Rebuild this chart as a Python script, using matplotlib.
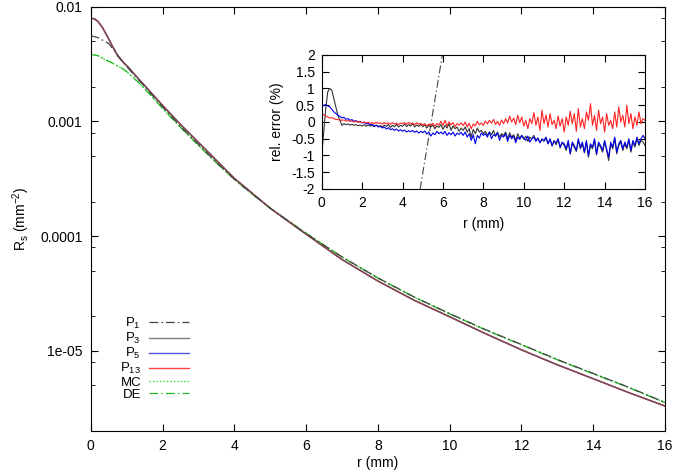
import numpy as np
import matplotlib
matplotlib.use("Agg")
import matplotlib.pyplot as plt
from matplotlib.ticker import FixedLocator, NullFormatter

plt.rcParams['font.family'] = ['Liberation Sans', 'DejaVu Sans']
plt.rcParams['mathtext.default'] = 'regular'
plt.rcParams['axes.unicode_minus'] = False

# main plot: reflectance profiles R_s(r)
r_p1 = [0, 0.2, 0.5, 0.85, 1.0, 1.3, 1.6, 2.0, 2.5, 3.0, 3.5, 4.0, 5.0, 6.0,
        7, 8, 9, 10, 11, 12, 13, 14, 15, 16]
R_p1 = [5.60e-3, 5.38e-3, 4.77e-3, 3.46e-3, 3.01e-3, 2.36e-3, 1.86e-3, 1.34e-3,
        9.05e-4, 6.31e-4, 4.40e-4, 3.13e-4, 1.75e-4, 1.05e-4, 6.60e-5, 4.32e-5,
        2.96e-5, 2.11e-5, 1.53e-5, 1.135e-5, 8.40e-6, 6.35e-6, 4.80e-6, 3.55e-6]

r_pn = [0, 0.1, 0.2, 0.33, 0.48, 0.62, 0.76, 0.9, 1.04, 1.3, 1.6, 2.0, 2.5, 3.0,
        3.5, 4.0, 5.0, 6.0, 7.0, 8.0, 9.0, 10, 11, 12, 13, 14, 15, 16]
R_p3 = [7.97e-3, 7.83e-3, 7.45e-3, 6.57e-3, 5.38e-3, 4.43e-3, 3.70e-3, 3.29e-3,
        2.98e-3, 2.41e-3, 1.90e-3, 1.38e-3, 9.42e-4, 6.57e-4, 4.58e-4, 3.19e-4,
        1.75e-4, 1.04e-4, 6.25e-5, 4.06e-5, 2.77e-5, 1.98e-5, 1.41e-5, 1.02e-5,
        7.55e-6, 5.71e-6, 4.31e-6, 3.30e-6]
R_p5 = R_p3
R_p13 = R_p3

r_ref = [0, 0.2, 0.4, 0.6, 0.85, 1.0, 1.3, 1.6, 2.0, 2.5, 3.0, 3.5, 4.0, 4.5, 5.0,
         6, 7, 8, 9, 10, 11, 12, 13, 14, 15, 16]
R_mc = [3.83e-3, 3.75e-3, 3.46e-3, 3.23e-3, 2.93e-3, 2.72e-3, 2.23e-3, 1.79e-3,
        1.30e-3, 8.87e-4, 6.18e-4, 4.36e-4, 3.13e-4, 2.32e-4, 1.75e-4, 1.06e-4,
        6.57e-5, 4.31e-5, 2.95e-5, 2.10e-5, 1.52e-5, 1.13e-5, 8.35e-6, 6.31e-6,
        4.77e-6, 3.53e-6]
R_de = R_mc

# inset: relative error (%) on a 0.1 mm grid
r_err = np.arange(161) / 10.0
err_p1_r = [4.87, 5.97]
err_p1 = [-2.0, 2.0]
err_p3 = [
    -1.00, -0.30, 0.40, 0.90, 1.00, 0.95, 0.70, 0.45, 0.20, 0.05,
    -0.10, -0.05, -0.08, -0.06, -0.09, -0.07, -0.10, -0.08, -0.11, -0.09,
    -0.12, -0.08, -0.13, -0.09, -0.12, -0.10, -0.14, -0.09, -0.13, -0.11,
    -0.15, -0.09, -0.13, -0.08, -0.16, -0.10, -0.14, -0.07, -0.15, -0.10,
    -0.13, -0.06, -0.14, -0.08, -0.12, -0.05, -0.15, -0.09, -0.13, -0.07,
    -0.14, -0.08, -0.18, -0.10, -0.15, -0.09, -0.20, -0.12, -0.16, -0.08,
    -0.22, -0.10, -0.18, -0.05, -0.25, -0.12, -0.20, -0.15, -0.28, -0.18,
    -0.25, -0.15, -0.30, -0.20, -0.45, -0.22, -0.35, -0.18, -0.30, -0.25,
    -0.35, -0.28, -0.40, -0.30, -0.38, -0.25, -0.42, -0.30, -0.45, -0.35,
    -0.40, -0.30, -0.50, -0.32, -0.45, -0.38, -0.55, -0.35, -0.48, -0.40,
    -0.52, -0.42, -0.58, -0.45, -0.50, -0.40, -0.55, -0.48, -0.62, -0.50,
    -0.58, -0.48, -0.65, -0.52, -0.72, -0.55, -0.68, -0.52, -0.78, -0.62,
    -0.70, -0.85, -0.60, -0.95, -0.65, -0.75, -0.88, -0.55, -0.80, -0.65,
    -0.92, -0.60, -1.05, -0.70, -0.80, -0.55, -0.98, -0.65, -0.75, -0.90,
    -0.60, -0.85, -1.15, -0.65, -0.80, -0.50, -0.95, -0.70, -0.60, -0.85,
    -0.65, -0.80, -0.55, -0.90, -0.60, -0.75, -0.50, -0.70, -0.55, -0.60,
    -0.70]
err_p5 = [
    0.45, 0.50, 0.52, 0.48, 0.45, 0.38, 0.30, 0.25, 0.20, 0.17,
    0.12, 0.14, 0.08, 0.10, 0.05, 0.07, 0.02, 0.04, 0.00, 0.02,
    -0.03, -0.01, -0.06, -0.04, -0.09, -0.07, -0.12, -0.10, -0.15, -0.13,
    -0.18, -0.15, -0.21, -0.17, -0.23, -0.20, -0.25, -0.21, -0.27, -0.23,
    -0.28, -0.24, -0.30, -0.26, -0.29, -0.25, -0.31, -0.27, -0.33, -0.28,
    -0.32, -0.27, -0.36, -0.30, -0.42, -0.33, -0.38, -0.28, -0.35, -0.30,
    -0.36, -0.28, -0.40, -0.32, -0.38, -0.30, -0.42, -0.33, -0.37, -0.31,
    -0.40, -0.30, -0.45, -0.35, -0.55, -0.38, -0.65, -0.40, -0.48, -0.33,
    -0.40, -0.35, -0.45, -0.30, -0.50, -0.38, -0.42, -0.32, -0.55, -0.40,
    -0.45, -0.35, -0.58, -0.40, -0.50, -0.42, -0.62, -0.45, -0.52, -0.40,
    -0.48, -0.55, -0.42, -0.60, -0.50, -0.45, -0.58, -0.48, -0.62, -0.52,
    -0.55, -0.45, -0.65, -0.50, -0.70, -0.58, -0.62, -0.50, -0.75, -0.60,
    -0.65, -0.80, -0.55, -0.95, -0.60, -0.70, -0.85, -0.50, -0.75, -0.60,
    -0.90, -0.55, -1.00, -0.65, -0.75, -0.50, -0.95, -0.60, -0.70, -0.85,
    -0.55, -0.80, -1.05, -0.60, -0.75, -0.45, -0.90, -0.65, -0.55, -0.80,
    -0.60, -0.75, -0.50, -0.85, -0.55, -0.70, -0.45, -0.65, -0.50, -0.40,
    -0.50]
err_p13 = [
    0.20, 0.22, 0.18, 0.15, 0.12, 0.13, 0.10, 0.08, 0.07, 0.06,
    0.05, 0.06, 0.03, 0.04, 0.02, 0.03, 0.00, 0.02, -0.01, 0.01,
    -0.02, 0.00, -0.03, -0.01, -0.04, -0.02, -0.05, -0.01, -0.04, -0.03,
    -0.06, -0.02, -0.05, -0.03, -0.07, -0.02, -0.06, -0.04, -0.08, -0.03,
    -0.05, -0.02, -0.07, -0.01, -0.06, -0.03, -0.08, -0.02, -0.07, -0.04,
    -0.09, -0.05, -0.12, -0.06, -0.10, -0.04, -0.13, -0.05, -0.09, 0.02,
    -0.10, 0.05, -0.12, 0.00, -0.08, -0.02, -0.14, -0.05, -0.09, -0.03,
    -0.11, 0.00, -0.15, -0.04, -0.20, -0.06, -0.12, 0.02, -0.08, -0.03,
    -0.10, 0.03, -0.06, 0.05, -0.04, 0.08, -0.07, 0.02, -0.10, 0.06,
    -0.05, 0.10, -0.03, 0.18, 0.00, 0.12, -0.08, 0.20, -0.02, 0.15,
    -0.12, 0.05, -0.20, 0.10, -0.05, 0.28, -0.10, 0.15, -0.25, 0.35,
    -0.05, 0.20, -0.15, 0.25, -0.08, 0.05, -0.20, 0.18, -0.12, 0.10,
    -0.30, 0.15, -0.10, 0.32, -0.05, 0.25, -0.28, 0.40, -0.15, 0.10,
    -0.20, 0.30, 0.05, 0.55, -0.10, 0.20, -0.25, 0.35, -0.05, 0.15,
    -0.30, 0.25, -0.10, 0.05, -0.20, 0.30, -0.15, 0.45, 0.00, 0.20,
    -0.15, 0.50, -0.05, 0.25, -0.20, 0.15, -0.10, 0.30, -0.05, 0.10,
    0.05]

dashdot = (0, (7, 2.5, 1.2, 2.5))
fs = 10

fig = plt.figure(figsize=(6.75, 4.72), dpi=100)
ax = fig.add_axes([0.1344, 0.0869, 0.8508, 0.8989])

ax.plot(r_p1, R_p1, color='#444444', lw=0.9, ls=dashdot, label='P$_1$', zorder=3)
ax.plot(r_pn, R_p5, color='#5555dd', lw=1.0, label='P$_5$', zorder=2)
ax.plot(r_pn, R_p13, color='#ff4444', lw=1.0, label='P$_{13}$', zorder=2.1)
ax.plot(r_pn, R_p3, color='#505050', lw=1.0, alpha=0.75, label='P$_3$', zorder=2.2)
ax.plot(r_ref, R_mc, color='#33dd33', lw=1.0, ls=(0, (1, 1.5)), label='MC')
ax.plot(r_ref, R_de, color='#22bb22', lw=0.9, ls=dashdot, label='DE')

ax.set_yscale('log')
ax.set_xlim(0, 16)
ax.set_ylim(2e-6, 0.01)
ax.set_xticks(range(0, 17, 2))
ax.yaxis.set_major_locator(FixedLocator([1e-5, 1e-4, 1e-3, 1e-2]))
ax.set_yticklabels(['1e-05', '0.0001', '0.001', '0.01'])
minors = [m * 10.0 ** e for e in range(-6, -2) for m in (2, 5, 8)]
ax.yaxis.set_minor_locator(FixedLocator(minors))
ax.yaxis.set_minor_formatter(NullFormatter())
ax.tick_params(which='both', direction='in', top=True, right=True, labelsize=fs, pad=6)
ax.tick_params(which='major', length=5)
ax.tick_params(which='minor', length=3)
ax.set_xlabel('r (mm)', fontsize=fs, labelpad=2)
ax.set_ylabel('R$_s$ (mm$^{-2}$)', fontsize=fs, labelpad=6)

handles, labels = ax.get_legend_handles_labels()
order = ['P$_1$', 'P$_3$', 'P$_5$', 'P$_{13}$', 'MC', 'DE']
hmap = dict(zip(labels, handles))
leg = ax.legend([hmap[k] for k in order], order, loc='upper right',
                bbox_to_anchor=(0.293, 0.35), bbox_transform=fig.transFigure,
                frameon=False, markerfirst=False, fontsize=9.5, handlelength=3.0,
                labelspacing=0.0, handletextpad=0.6, borderpad=0.2)
for t in leg.get_texts():
    t.set_ha('right')

# inset
ins = fig.add_axes([0.4766, 0.5996, 0.479, 0.2839])
ins.plot(err_p1_r, err_p1, color='#444444', lw=0.8, ls=dashdot)
ins.plot(r_err, err_p3, color='#333333', lw=0.8)
ins.plot(r_err, err_p5, color='#0000ee', lw=0.8)
ins.plot(r_err, err_p13, color='#ff2222', lw=0.8)
ins.set_xlim(0, 16)
ins.set_ylim(-2, 2)
ins.set_xticks(range(0, 17, 2))
ins.set_yticks([-2, -1.5, -1, -0.5, 0, 0.5, 1, 1.5, 2])
ins.set_yticklabels(['-2', '-1.5', '-1', '-0.5', '0', '0.5', '1', '1.5', '2'])
ins.tick_params(direction='in', top=True, right=True, labelsize=fs, length=5, pad=5)
ins.set_xlabel('r (mm)', fontsize=fs, labelpad=5)
ins.set_ylabel('rel. error (%)', fontsize=fs, labelpad=5)

fig.savefig('out.png', dpi=100)
